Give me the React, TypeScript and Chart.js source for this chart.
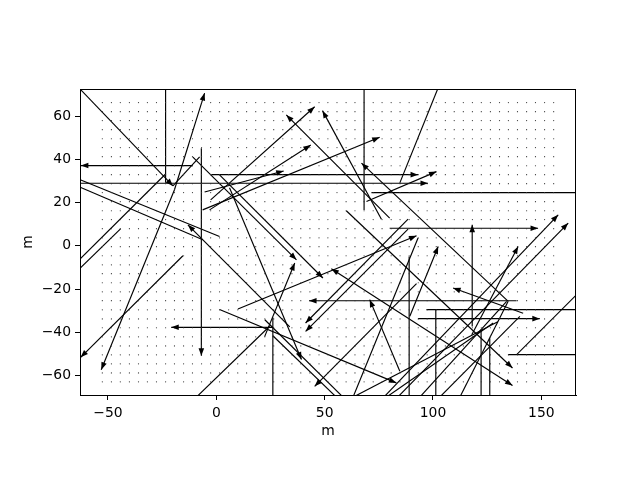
import React, { useEffect, useRef } from "react";
import { Chart, registerables } from "chart.js";

Chart.register(...registerables);

// Axis ticks
const xTicks = [-50, 0, 50, 100, 150];
const yTicks = [-60, -40, -20, 0, 20, 40, 60];

// Regular grid of sample points (dots)
const gridX = [
  -52.6, -48.4, -44.3, -40.1, -35.9, -31.8, -27.6, -23.4, -19.3, -15.1, -11.0, -6.8, -2.6,
  1.5, 5.7, 9.9, 14.0, 18.2, 22.4, 26.5, 30.7, 34.9, 39.0, 43.2, 47.4, 51.5, 55.7, 59.9,
  64.0, 68.2, 72.4, 76.5, 80.7, 84.8, 89.0, 93.2, 97.3, 101.5, 105.7, 109.8, 114.0, 118.2,
  122.3, 126.5, 130.7, 134.8, 139.0, 143.2, 147.3, 151.5, 155.7,
];
const gridY = [
  66.2, 62.0, 57.9, 53.7, 49.5, 45.4, 41.2, 37.0, 32.9, 28.7, 24.6, 20.4, 16.2, 12.1, 7.9,
  3.7, -0.4, -4.6, -8.8, -12.9, -17.1, -21.3, -25.4, -29.6, -33.8, -37.9, -42.1, -46.3,
  -50.4, -54.6, -58.8, -62.9,
];

// Segments: start (x0,y0) -> end (x1,y1); arrow: 0 none, 1 head at end, 2 heads at both ends
const segX0 = [
  -63.0, -23.4, -19.3, -19.3, -10.9, -62.8, -2.3, -6.9, -62.8, -62.8,
  33.9, -62.8, -62.8, -15.4, 26.1, -10.8, 1.5, 10.0, 1.5, 26.1,
  68.2, 102.2, -2.6, -3.1, -6.3, -5.4, 69.3, 80.0, 76.2, 71.6,
  80.0, 118.1, 77.3, 83.7, 117.9, 60.0, 134.6, 138.6, 97.0, 93.1,
  89.0, 101.3, 122.2, 126.2, 134.7, 138.6, 141.6, 53.1, 84.7, 89.3,
  88.5, 88.5, 92.4, 22.3, 6.1, -9.2, 63.1, 63.1, 78.5, 93.9,
  103.1, 112.4, 22.4, 26.1, -20.0,
];
const segY0 = [
  72.6, 72.6, 25.9, 25.9, 37.1, 28.9, 32.9, 45.1, 30.5, 27.1,
  -37.5, -6.0, -10.3, -4.6, -37.7, 41.0, 32.8, -29.2, -29.5, -33.2,
  72.6, 72.6, 21.2, 16.6, 16.6, 24.9, 20.5, 12.8, 12.3, 24.6,
  8.1, -37.3, -70.0, -70.0, -41.1, 16.2, -25.6, -25.4, -29.5, -33.7,
  -4.9, -29.5, -38.8, -42.7, -50.3, -50.3, -31.2, -10.6, -58.0, -32.6,
  12.3, 7.7, -17.5, -42.0, 26.8, -70.0, -70.0, -70.0, -70.0, -70.0,
  -70.0, -70.0, -34.2, -41.6, 27.7,
];
const segX1 = [
  -20.0, -23.4, -5.4, -53.1, -62.5, 97.7, 93.1, -6.9, 1.5, -6.2,
  -13.1, -23.4, -44.2, -62.6, -20.8, 37.0, 49.2, 92.4, 83.1, 26.1,
  68.2, 84.7, 45.4, 43.6, 75.4, 31.1, 101.6, 32.3, 49.0, 168.0,
  148.5, 118.1, 157.8, 162.4, 139.3, 136.7, 67.0, 42.8, 168.0, 149.3,
  89.0, 101.3, 122.2, 126.2, 168.0, 167.8, 109.3, 136.7, 70.8, 102.4,
  41.2, 41.2, 45.4, 36.2, 39.3, 24.6, 93.1, 129.9, 127.8, 134.0,
  140.1, 134.7, 58.5, 55.4, -7.7,
];
const segY1 = [
  27.7, 29.1, 70.6, -57.3, 37.1, 28.9, 32.9, -50.8, 4.3, 2.8,
  9.7, 33.2, 7.8, -51.6, -37.7, -6.5, -14.9, 4.6, -63.4, -70.0,
  16.6, 29.1, 64.3, 46.6, 50.2, 34.6, 34.3, 60.5, 62.5, 24.6,
  8.1, 9.7, 14.3, 10.5, -0.3, -56.5, 38.2, -25.4, -29.5, -33.7,
  -70.0, -70.0, -70.0, -70.0, -50.3, -21.1, -19.5, -64.6, -24.9, -0.3,
  -35.7, -39.6, -65.0, -8.0, -52.6, -37.2, 3.6, -35.1, -35.7, -25.7,
  -32.6, -25.7, -70.0, -70.0, 41.1,
];
const segArrow = [
  1, 0, 1, 1, 1, 1, 1, 1, 0, 0,
  1, 0, 0, 1, 1, 1, 1, 1, 1, 0,
  0, 0, 1, 1, 1, 1, 1, 1, 1, 0,
  1, 1, 1, 1, 1, 1, 1, 1, 0, 1,
  0, 0, 0, 0, 0, 0, 1, 2, 1, 1,
  1, 1, 1, 1, 1, 0, 0, 0, 0, 0,
  0, 0, 0, 0, 0,
];

const FONT = "'DejaVu Sans', sans-serif";

const fmt = (v: number) => String(v).replace("-", "\u2212");

function drawHead(ctx: CanvasRenderingContext2D, from: any, to: any) {
  const ang = Math.atan2(to.y - from.y, to.x - from.x);
  const L = 7.5;
  const W = 2.8;
  const c = Math.cos(ang);
  const s = Math.sin(ang);
  ctx.beginPath();
  ctx.moveTo(to.x, to.y);
  ctx.lineTo(to.x - L * c - W * s, to.y - L * s + W * c);
  ctx.lineTo(to.x - L * c + W * s, to.y - L * s - W * c);
  ctx.closePath();
  ctx.fill();
}

const arrowPlugin = {
  id: "arrowHeads",
  afterDatasetsDraw(chart: any) {
    const ctx = chart.ctx;
    const a = chart.chartArea;
    ctx.save();
    ctx.beginPath();
    ctx.rect(a.left, a.top, a.right - a.left, a.bottom - a.top);
    ctx.clip();
    ctx.fillStyle = "#000";
    chart.data.datasets.forEach((ds: any, i: number) => {
      const mode = ds.arrowMode;
      if (!mode) return;
      const meta = chart.getDatasetMeta(i);
      const p0 = meta.data[0];
      const p1 = meta.data[1];
      if (!p0 || !p1) return;
      drawHead(ctx, p0, p1);
      if (mode === 2) drawHead(ctx, p1, p0);
    });
    ctx.restore();
  },
  afterDraw(chart: any) {
    const ctx = chart.ctx;
    const a = chart.chartArea;
    ctx.save();
    ctx.strokeStyle = "#000";
    ctx.lineWidth = 1;
    ctx.strokeRect(a.left + 0.5, a.top + 0.5, a.right - a.left - 1, a.bottom - a.top);
    ctx.restore();
  },
};

export default function App() {
  const ref = useRef<HTMLCanvasElement | null>(null);

  useEffect(() => {
    if (!ref.current) return;
    const dots: { x: number; y: number }[] = [];
    gridY.forEach((y) => gridX.forEach((x) => dots.push({ x, y })));

    const datasets: any[] = [
      {
        label: "grid",
        data: dots,
        showLine: false,
        pointRadius: 0.6,
        pointHoverRadius: 0,
        pointBorderWidth: 0,
        backgroundColor: "#333",
        borderColor: "#333",
      },
    ];
    segX0.forEach((x0, i) => {
      datasets.push({
        label: "seg" + i,
        data: [
          { x: x0, y: segY0[i] },
          { x: segX1[i], y: segY1[i] },
        ],
        showLine: true,
        borderColor: "#000",
        borderWidth: 1.15,
        pointRadius: 0,
        pointHoverRadius: 0,
        arrowMode: segArrow[i],
      });
    });

    const chart = new Chart(ref.current, {
      type: "scatter",
      data: { datasets },
      plugins: [arrowPlugin],
      options: {
        animation: false,
        responsive: false,
        devicePixelRatio: 1,
        events: [],
        layout: { padding: { left: 0, top: 89, right: 64, bottom: 0 } },
        plugins: { legend: { display: false }, tooltip: { enabled: false } },
        scales: {
          x: {
            type: "linear",
            min: -62.9,
            max: 166.0,
            afterFit: (s: any) => {
              s.height = 85;
            },
            afterBuildTicks: (s: any) => {
              s.ticks = xTicks.map((v) => ({ value: v }));
            },
            grid: { drawOnChartArea: false, drawTicks: true, tickLength: 5, color: "#000", tickWidth: 1 },
            border: { display: true, color: "#000", width: 1 },
            ticks: {
              color: "#000",
              padding: 5,
              maxRotation: 0,
              autoSkip: false,
              font: { family: FONT, size: 13.9 },
              callback: (v: any) => fmt(Number(v)),
            },
            title: {
              display: true,
              text: "m",
              color: "#000",
              font: { family: FONT, size: 13.9 },
              padding: { top: 0, bottom: 40 },
            },
          },
          y: {
            type: "linear",
            min: -69.0,
            max: 72.5,
            afterFit: (s: any) => {
              s.width = 80;
            },
            afterBuildTicks: (s: any) => {
              s.ticks = yTicks.map((v) => ({ value: v }));
            },
            grid: { drawOnChartArea: false, drawTicks: true, tickLength: 5, color: "#000", tickWidth: 1 },
            border: { display: true, color: "#000", width: 1 },
            ticks: {
              color: "#000",
              padding: 4,
              autoSkip: false,
              font: { family: FONT, size: 13.9 },
              callback: (v: any) => fmt(Number(v)),
            },
            title: {
              display: true,
              text: "m",
              color: "#000",
              font: { family: FONT, size: 13.9 },
              padding: { top: 20, bottom: 0 },
            },
          },
        },
      } as any,
    });
    return () => chart.destroy();
  }, []);

  return (
    <div style={{ position: "absolute", left: 0, top: 0, width: 640, height: 480, background: "#fff" }}>
      <canvas ref={ref} width={640} height={480} style={{ width: 640, height: 480, display: "block" }} />
    </div>
  );
}
